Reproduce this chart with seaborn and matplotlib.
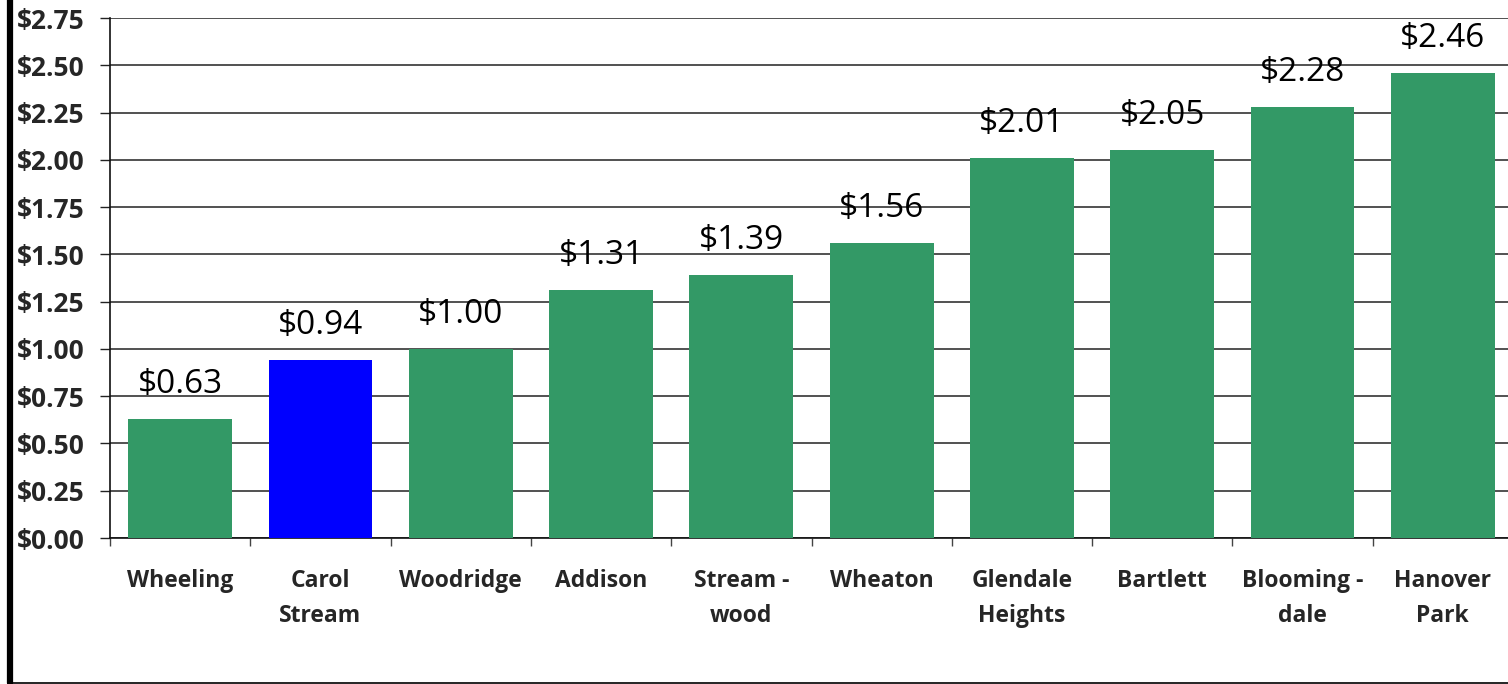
import matplotlib
matplotlib.use("Agg")
import matplotlib.pyplot as plt
from matplotlib.lines import Line2D
import seaborn as sns
import pandas as pd
import numpy as np

# Cost per resident by community
communities = ["Wheeling", "Carol\nStream", "Woodridge", "Addison", "Stream -\nwood",
               "Wheaton", "Glendale\nHeights", "Bartlett", "Blooming -\ndale", "Hanover\nPark"]
costs = [0.63, 0.94, 1.00, 1.31, 1.39, 1.56, 2.01, 2.05, 2.28, 2.46]
bar_colors = ["#339966", "#0000FF", "#339966", "#339966", "#339966",
              "#339966", "#339966", "#339966", "#339966", "#339966"]
y_ticks = [0.00, 0.25, 0.50, 0.75, 1.00, 1.25, 1.50, 1.75, 2.00, 2.25, 2.50, 2.75]

sns.set_theme(style="white")
plt.rcParams["font.family"] = ["Open Sans", "DejaVu Sans"]

df = pd.DataFrame({"community": communities, "cost": costs})

W, H = 1508, 684
fig = plt.figure(figsize=(W / 100, H / 100), dpi=100)
ax = fig.add_axes([110 / W, (684 - 538) / H, 1403 / W, (538 - 18) / H])

sns.barplot(data=df, x="community", y="cost", hue="community",
            palette=bar_colors, legend=False, width=0.74, saturation=1,
            edgecolor="none", linewidth=0, ax=ax, zorder=3)

ax.set_ylim(0, 2.75)
ax.set_xlim(-0.5, len(communities) - 0.5)
ax.set_yticks(y_ticks)
ax.set_yticklabels([f"${v:.2f}" for v in y_ticks], fontsize=19, fontweight="bold")
ax.yaxis.grid(True, color="#222222", linewidth=1.1, zorder=0)
ax.set_axisbelow(True)
ax.tick_params(axis="y", which="major", direction="out", length=7.5, width=1,
               color="#222222", pad=11, left=True)

# Category labels centred under bars, tick marks drawn between categories
ax.set_xticks(np.arange(len(communities)))
ax.set_xticklabels(communities, fontsize=16.5, fontweight="bold", linespacing=1.65)
ax.tick_params(axis="x", which="major", length=0, pad=22)
ax.set_xticks(np.arange(len(communities) + 1) - 0.5, minor=True)
ax.tick_params(axis="x", which="minor", direction="out", length=6, width=1,
               color="#444444", bottom=True)
ax.set_xlabel("")
ax.set_ylabel("")

for side in ("top", "right"):
    ax.spines[side].set_visible(False)
for side in ("left", "bottom"):
    ax.spines[side].set_color("#111111")
    ax.spines[side].set_linewidth(1.2)

# Value labels above bars
for i, v in enumerate(costs):
    ax.annotate(f"${v:.2f}", (i, v), xytext=(0, 13), textcoords="offset points",
                ha="center", va="bottom", fontsize=24, color="black")

# Frame lines around the chart area
fig.add_artist(Line2D([10 / W, 10 / W], [1.5 / H, 1], transform=fig.transFigure,
                      color="black", linewidth=4.5))
fig.add_artist(Line2D([8 / W, 1], [1.5 / H, 1.5 / H], transform=fig.transFigure,
                      color="black", linewidth=1.2))

fig.savefig("out.png", dpi=100)
